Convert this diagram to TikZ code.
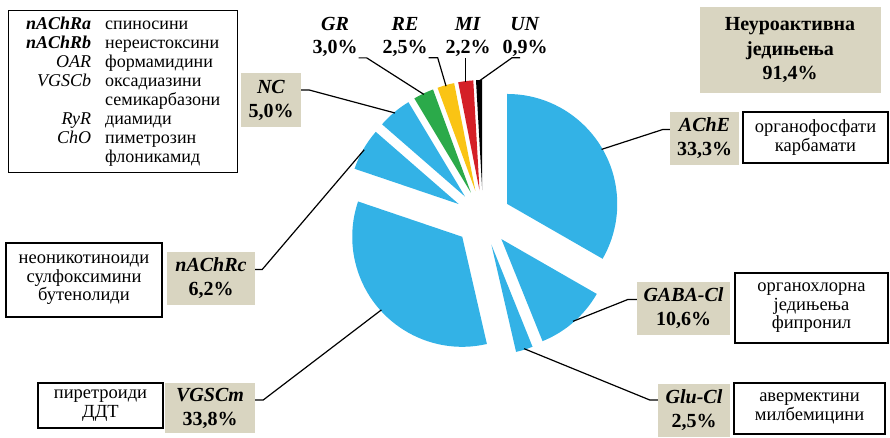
\documentclass[tikz,border=0pt]{standalone}
\usepackage{fontspec}
\IfFontExistsTF{LiberationSerif-Regular.ttf}
  {\setmainfont{LiberationSerif}[Extension=.ttf,UprightFont=*-Regular,BoldFont=*-Bold,
     ItalicFont=*-Italic,BoldItalicFont=*-BoldItalic]}
  {\setmainfont{Liberation Serif}}
\usetikzlibrary{calc}
\definecolor{pieblue}{RGB}{51,178,230}
\definecolor{piegreen}{RGB}{43,170,74}
\definecolor{pieyellow}{RGB}{250,196,20}
\definecolor{piered}{RGB}{212,32,39}
\definecolor{beige}{RGB}{217,213,193}

\tikzset{
  lab/.style={fill=beige,align=center,inner sep=2pt,minimum height=53pt,font=\fontsize{20}{24}\selectfont\bfseries},
  toplab/.style={align=center,inner sep=1pt,font=\fontsize{20}{23}\selectfont\bfseries},
  desc/.style={draw,line width=1.4pt,fill=white,align=center,inner sep=3pt,font=\fontsize{18.5}{18.5}\selectfont},
  conn/.style={line width=1.2pt}
}

\begin{document}
\begin{tikzpicture}[x=1pt,y=-1pt]
\useasboundingbox (0,0) rectangle (890,437);
\coordinate (c) at (483,218);

% pie slices, each pushed out along its middle
\foreach \n/\a/\b/\col in {AChE/0/33.3/pieblue, GABA/33.3/43.9/pieblue,
    Glu/43.9/46.4/pieblue, VGSCm/46.4/80.2/pieblue, nAChRc/80.2/86.4/pieblue,
    NC/86.4/91.4/pieblue, GR/91.4/94.4/piegreen, RE/94.4/96.9/pieyellow,
    MI/96.9/99.1/piered, UN/99.1/100/black}{
  \pgfmathsetmacro\mid{1.8*(\a+\b)-90}
  \fill[\col] ($(c)+(\mid:28)$) -- ++(3.6*\a-90:110)
    arc[start angle=3.6*\a-90, end angle=3.6*\b-90, radius=110] -- cycle;
  \path (c) ++(\mid:137) coordinate (p\n);
}

% legend
\node[desc,anchor=north west,inner sep=4pt,minimum width=229pt,minimum height=162pt] (legend) at (8,10)
  {\fontsize{18}{19}\selectfont
   \begin{tabular}{@{}r@{\hspace{14pt}}l@{}}
   \textbf{\textit{nAChRa}} & спиносини\\
   \textbf{\textit{nAChRb}} & нереистоксини\\
   \textit{OAR} & формамидини\\
   \textit{VGSCb} & оксадиазини\\
    & семикарбазони\\
   \textit{RyR} & диамиди\\
   \textit{ChO} & пиметрозин\\
    & флоникамид
   \end{tabular}};

\node[lab,minimum width=181pt,minimum height=86pt,font=\fontsize{20}{24.5}\selectfont\bfseries] (title) at (790,50) {Неуроактивна\\једињења\\91,4\%};

% boxed labels
\node[lab,minimum width=69pt] (lAChE) at (704.5,138.5) {\textit{AChE}\\33,3\%};
\node[lab,minimum width=93pt] (lGABA) at (683.5,308.5) {\textit{GABA-Cl}\\10,6\%};
\node[lab,minimum width=72pt] (lGlu) at (694,410) {\textit{Glu-Cl}\\2,5\%};
\node[lab,minimum width=88pt] (lnAChRc) at (211,278.5) {\textit{nAChRc}\\6,2\%};
\node[lab,minimum width=90pt,minimum height=50pt] (lVGSCm) at (210,408) {\textit{VGSCm}\\33,8\%};
\node[lab,minimum width=60pt,minimum height=54pt] (lNC) at (271,100) {\textit{NC}\\5,0\%};

\node[desc,minimum width=145pt,minimum height=51pt] (dAChE) at (815.5,137.5) {органофосфати\\карбамати};
\node[desc,minimum width=153pt,minimum height=70pt] (dGABA) at (811.5,308) {органохлорна\\једињења\\фипронил};
\node[desc,minimum width=151pt,minimum height=51pt] (dGlu) at (809.5,408.5) {авермектини\\милбемицини};
\node[desc,minimum width=156pt,minimum height=74pt] (dnAChRc) at (84,280) {неоникотиноиди\\сулфоксимини\\бутенолиди};
\node[desc,minimum width=125pt,minimum height=45pt] (dVGSCm) at (100.5,405.5) {пиретроиди\\ДДТ};

% small slices on top
\node[toplab] (lGR) at (335,37) {\textit{GR}\\3,0\%};
\node[toplab] (lRE) at (405,37) {\textit{RE}\\2,5\%};
\node[toplab] (lMI) at (468,37) {\textit{MI}\\2,2\%};
\node[toplab] (lUN) at (525,37) {\textit{UN}\\0,9\%};

% connectors
\draw[conn] ([yshift=9pt]lAChE.west) -- ++(-7,0) -- (pAChE);
\draw[conn] ([yshift=9pt]lGABA.west) -- ++(-9,0) -- (pGABA);
\draw[conn] ([yshift=10pt]lGlu.west) -- ++(-8,0) -- (pGlu);
\draw[conn] ([yshift=9pt]lnAChRc.east) -- ++(7,0) -- (pnAChRc);
\draw[conn] ([yshift=8pt]lVGSCm.east) -- ++(8,0) -- (pVGSCm);
\draw[conn] ([yshift=10pt]lNC.east) -- ++(8,0) -- (pNC);
\draw[conn] (lGR.south east) -- ++(8,0) -- (pGR);
\draw[conn] (lRE.south east) -- ++(9,0) -- (pRE);
\draw[conn] (lMI.south -| pMI) -- (pMI);
\draw[conn] ([xshift=-5pt]lUN.south) -- ++(-8,0) -- (pUN);

\end{tikzpicture}
\end{document}
